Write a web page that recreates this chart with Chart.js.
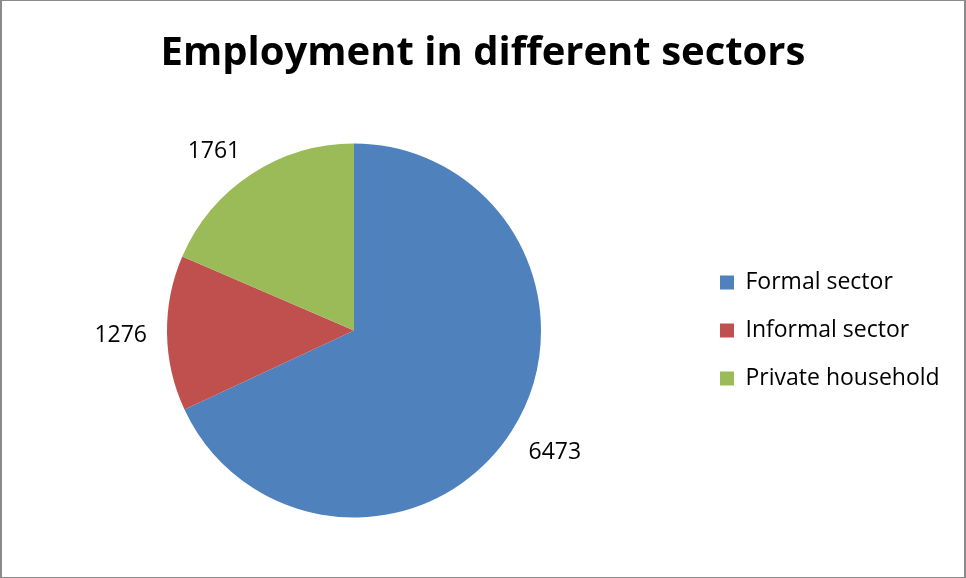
<!DOCTYPE html>
<html>
<head>
<meta charset="utf-8">
<title>Employment in different sectors</title>
<script src="https://cdn.jsdelivr.net/npm/chart.js@4/dist/chart.umd.min.js"></script>
<style>
  html, body { margin: 0; padding: 0; background: #fff; }
  #wrap { position: relative; width: 966px; height: 578px; }
  #frame {
    position: absolute; left: 0; top: 0; width: 966px; height: 578px;
    box-sizing: border-box; border-style: solid; border-color: #8a8a8a;
    border-width: 1px 2px 1px 2px; pointer-events: none;
  }
  canvas { display: block; }
</style>
</head>
<body>
<div id="wrap">
  <canvas id="chart" width="966" height="578"></canvas>
  <div id="frame"></div>
</div>
<script>
// Employment by sector
const sectors = ['Formal sector', 'Informal sector', 'Private household'];
const employed = [6473, 1276, 1761];
const sectorColors = ['#4F81BD', '#C0504D', '#9BBB59'];
const chartTitle = 'Employment in different sectors';

const FONT = '"Open Sans", Lato, "Liberation Sans", sans-serif';
const legendFontSize = 23;
const legendPadding = 25;
const legendLeft = 695;

// Width of the widest legend entry, used to place the legend box
const measureCtx = document.createElement('canvas').getContext('2d');
measureCtx.font = legendFontSize + 'px ' + FONT;
const widestLabel = Math.max(...sectors.map(s => measureCtx.measureText(s).width));
const legendWidth = legendPadding + 14 + legendFontSize / 2 + widestLabel + 10;
const rightPad = Math.max(0, 966 - legendLeft - legendWidth);

// Title centred across the whole canvas
const canvasTitle = {
  id: 'canvasTitle',
  afterDraw(chart) {
    const ctx = chart.ctx;
    ctx.save();
    ctx.font = 'bold 40px ' + FONT;
    ctx.fillStyle = '#000';
    ctx.textAlign = 'center';
    ctx.textBaseline = 'alphabetic';
    ctx.fillText(chartTitle, chart.width / 2, 65);
    ctx.restore();
  }
};

// Value labels just outside each slice: the label box corner nearest the
// pie sits on the slice's middle ray, a small gap beyond the rim
const outsideLabels = {
  id: 'outsideLabels',
  afterDatasetsDraw(chart) {
    const ctx = chart.ctx;
    const meta = chart.getDatasetMeta(0);
    const values = chart.data.datasets[0].data;
    const clamp = v => Math.max(-1, Math.min(1, v));
    ctx.save();
    ctx.font = '23px ' + FONT;
    ctx.fillStyle = '#000';
    ctx.textAlign = 'center';
    ctx.textBaseline = 'middle';
    meta.data.forEach((arc, i) => {
      const p = arc.getProps(['x', 'y', 'startAngle', 'endAngle', 'outerRadius'], true);
      const mid = (p.startAngle + p.endAngle) / 2;
      const text = String(values[i]);
      const halfW = ctx.measureText(text).width / 2;
      const halfH = 8.5;
      const r = p.outerRadius + 20;
      const cos = Math.cos(mid), sin = Math.sin(mid);
      const cx = p.x + cos * r + clamp(cos * 3) * halfW;
      const cy = p.y + sin * r + clamp(sin * 3) * halfH;
      ctx.fillText(text, cx, cy + 2);
    });
    ctx.restore();
  }
};

new Chart(document.getElementById('chart'), {
  type: 'pie',
  data: {
    labels: sectors,
    datasets: [{
      data: employed,
      backgroundColor: sectorColors,
      borderWidth: 0,
      radius: 187
    }]
  },
  options: {
    responsive: false,
    animation: false,
    events: [],
    layout: { padding: { left: 13, right: rightPad, top: 100, bottom: 17 } },
    plugins: {
      tooltip: { enabled: false },
      title: { display: false },
      legend: {
        display: true,
        position: 'right',
        align: 'center',
        fullSize: false,
        labels: {
          color: '#000',
          boxWidth: 14,
          boxHeight: 14,
          padding: legendPadding,
          font: { family: FONT, size: legendFontSize }
        }
      }
    }
  },
  plugins: [outsideLabels, canvasTitle]
});
</script>
</body>
</html>
